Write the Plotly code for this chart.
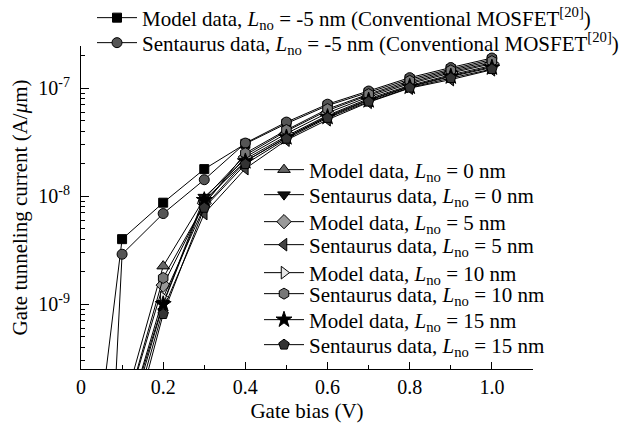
import plotly.graph_objects as go

# ---------------- data ----------------
bias = [0.1, 0.2, 0.3, 0.4, 0.5, 0.6, 0.7, 0.8, 0.9, 1.0]
bias_m5 = [0.0] + bias

model_m5 = [3e-12, 4.0e-9, 8.7e-9, 1.78e-8, 3.05e-8, 4.7e-8, 6.9e-8, 9.1e-8, 1.21e-7, 1.5e-7, 1.84e-7]
sent_m5 = [1e-16, 2.9e-9, 6.9e-9, 1.42e-8, 3.1e-8, 4.85e-8, 7.1e-8, 9.4e-8, 1.25e-7, 1.55e-7, 1.9e-7]

model_0 = [1.0e-10, 2.25e-9, 9.5e-9, 2.4e-8, 4.0e-8, 6.2e-8, 8.6e-8, 1.13e-7, 1.42e-7, 1.72e-7]
sent_0 = [6e-11, 1.02e-9, 9.8e-9, 2.2e-8, 3.6e-8, 5.6e-8, 8.0e-8, 1.06e-7, 1.33e-7, 1.62e-7]
model_5 = [8e-11, 1.5e-9, 8.6e-9, 2.3e-8, 3.8e-8, 5.9e-8, 8.3e-8, 1.10e-7, 1.38e-7, 1.68e-7]
sent_5 = [4e-11, 9.0e-10, 6.9e-9, 1.8e-8, 3.3e-8, 5.1e-8, 7.4e-8, 1.00e-7, 1.20e-7, 1.48e-7]
model_10 = [6e-11, 1.15e-9, 8.0e-9, 2.1e-8, 3.5e-8, 5.5e-8, 7.8e-8, 1.04e-7, 1.30e-7, 1.58e-7]
sent_10 = [8e-11, 1.75e-9, 8.4e-9, 2.5e-8, 4.1e-8, 6.4e-8, 8.8e-8, 1.17e-7, 1.46e-7, 1.78e-7]
model_15 = [5e-11, 1.0e-9, 9.2e-9, 2.1e-8, 3.5e-8, 5.4e-8, 7.7e-8, 1.03e-7, 1.28e-7, 1.55e-7]
sent_15 = [3e-11, 8.1e-10, 7.8e-9, 1.98e-8, 3.4e-8, 5.3e-8, 7.5e-8, 1.01e-7, 1.24e-7, 1.50e-7]

x_tickvals = [0, 0.2, 0.4, 0.6, 0.8, 1.0]
x_ticktext = ["0", "0.2", "0.4", "0.6", "0.8", "1.0"]
y_tickvals = [1e-9, 1e-8, 1e-7]
y_ticktext = ["10<sup>-9</sup>", "10<sup>-8</sup>", "10<sup>-7</sup>"]

LNO = "<i>L</i><sub>no</sub>"
CONV = " (Conventional MOSFET<sup>[20]</sup>)"

FONT = "Liberation Serif"
FS = 21

# plot-area geometry (pixels) used only to place the legends
L, R, T, B, W, H = 81, 86, 46, 59, 619, 428
PW, PH = W - L - R, H - T - B


def px2paper(px, py):
    return (px - L) / PW, (H - B - py) / PH


fig = go.Figure()
legend_layout = {}
series = [
    (bias_m5, model_m5, "Model data, " + LNO + " = -5 nm" + CONV, "square", "#000000", 9, (112, 18)),
    (bias_m5, sent_m5, "Sentaurus data, " + LNO + " = -5 nm" + CONV, "circle", "#555555", 10, (112, 43)),
    (bias, model_0, "Model data, " + LNO + " = 0 nm", "triangle-up", "#666666", 11, (279, 170)),
    (bias, sent_0, "Sentaurus data, " + LNO + " = 0 nm", "triangle-down", "#111111", 11, (279, 195)),
    (bias, model_5, "Model data, " + LNO + " = 5 nm", "diamond", "#999999", 11, (279, 222)),
    (bias, sent_5, "Sentaurus data, " + LNO + " = 5 nm", "triangle-left", "#444444", 11, (279, 245)),
    (bias, model_10, "Model data, " + LNO + " = 10 nm", "triangle-right", "#e6e6e6", 11, (279, 273)),
    (bias, sent_10, "Sentaurus data, " + LNO + " = 10 nm", "hexagon", "#777777", 11, (279, 294)),
    (bias, model_15, "Model data, " + LNO + " = 15 nm", "star", "#000000", 12, (279, 320)),
    (bias, sent_15, "Sentaurus data, " + LNO + " = 15 nm", "pentagon", "#333333", 11, (279, 345)),
]

for i, (x, y, name, sym, fill, size, (mx, my)) in enumerate(series):
    lname = "legend" if i == 0 else "legend%d" % (i + 1)
    fig.add_trace(go.Scatter(
        x=x, y=y, name=name, mode="lines+markers",
        line=dict(color="black", width=1),
        marker=dict(symbol=sym, size=size, color=fill,
                    line=dict(color="black", width=1)),
        legend=lname, showlegend=True,
    ))
    lx, ly = px2paper(mx - 20, my)
    legend_layout[lname] = dict(
        x=lx, y=ly, xanchor="left", yanchor="middle",
        bgcolor="rgba(0,0,0,0)", borderwidth=0,
        font=dict(family=FONT, size=FS, color="black"),
        itemwidth=40, visible=True,
    )

y_minor = [m * 10.0 ** e for e in (-10, -9, -8, -7) for m in range(2, 10)]

fig.update_layout(
    width=W, height=H,
    showlegend=True,
    margin=dict(l=L, r=R, t=T, b=B, autoexpand=False),
    plot_bgcolor="white", paper_bgcolor="white",
    font=dict(family=FONT, size=FS, color="black"),
    xaxis=dict(
        range=[0, 1.1], showline=True, linecolor="black", linewidth=1,
        ticks="inside", ticklen=7, tickcolor="black",
        tickvals=x_tickvals, ticktext=x_ticktext,
        minor=dict(tickvals=[0.1, 0.3, 0.5, 0.7, 0.9, 1.1], ticks="inside",
                   ticklen=4, tickcolor="black", showgrid=False),
        showgrid=False, zeroline=False,
        title=dict(text="Gate bias (V)", standoff=6, font=dict(size=FS)),
        tickfont=dict(size=20),
    ),
    yaxis=dict(
        type="log", range=[-9.60, -6.61], showline=True, linecolor="black",
        linewidth=1, ticks="inside", ticklen=8, tickcolor="black",
        tickvals=y_tickvals, ticktext=y_ticktext,
        minor=dict(tickvals=y_minor, ticks="inside", ticklen=4,
                   tickcolor="black", showgrid=False),
        showgrid=False, zeroline=False,
        title=dict(text="Gate tunneling current (A/<i>μ</i>m)", standoff=4,
                   font=dict(size=FS)),
        tickfont=dict(size=20),
        ticklabelstandoff=6,
    ),
    **legend_layout,
)

fig.write_html("out.html")
